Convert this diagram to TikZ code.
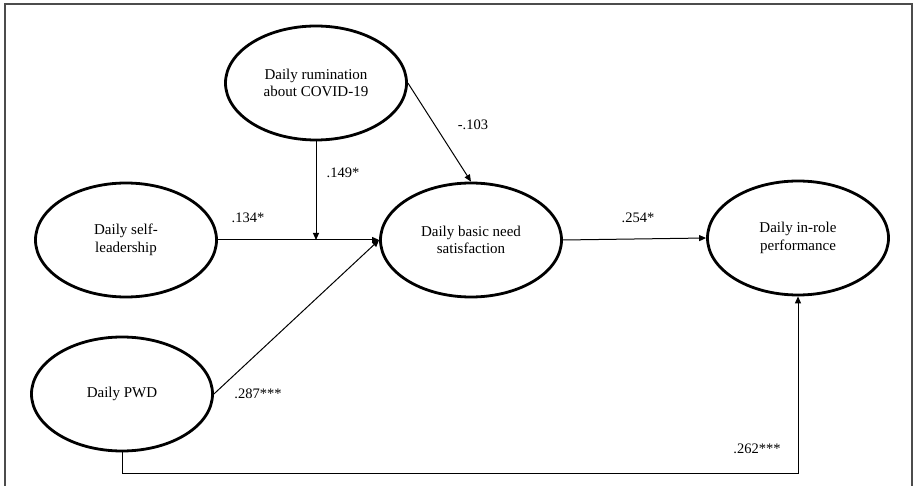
\documentclass[tikz,border=0pt]{standalone}
\usepackage{fontspec}
\setmainfont{Liberation Serif}
\usetikzlibrary{shapes.geometric,arrows.meta}

\begin{document}
\begin{tikzpicture}[x=1pt,y=-1pt,
  latent/.style={ellipse,draw,line width=2.8pt,minimum width=181pt,minimum height=114pt,
                 inner sep=0pt,align=center,font=\fontsize{15}{17.5}\selectfont},
  pathline/.style={line width=1pt,-{Triangle[length=7pt,width=6pt]}},
  coef/.style={font=\fontsize{14.5}{17}\selectfont,inner sep=0pt}]
\useasboundingbox (0,0) rectangle (916,486);

% open frame
\draw[line width=1.5pt,color=black!70] (5,486) -- (5,4) -- (912,4) -- (912,486);

% latent variables
\node[latent] (rum)  at (316,83)  {Daily rumination\\about COVID-19};
\node[latent] (self) at (126,240) {Daily self-\\leadership};
\node[latent] (pwd)  at (122,394) {Daily PWD};
\node[latent] (bns)  at (471,240) {Daily basic need\\satisfaction};
\node[latent] (irp)  at (798,238) {Daily in-role\\performance};

% helper points
\coordinate (mod) at (rum.south |- self.east);
\path (pwd.south) ++(0,21) coordinate (pwdlow);

% paths
\draw[pathline] (self.east) -- (bns.west);
\draw[pathline] (rum.south) -- (mod);
\draw[pathline] (rum.east) -- (bns.north);
\draw[pathline] (pwd.east) -- (bns.west);
\draw[pathline] (bns.east) -- (irp.west);
\draw[pathline] (pwd.south) -- (pwdlow) -| (irp.south);

% coefficients
\node[coef] at (473,125) {-.103};
\node[coef] at (343,173) {.149*};
\node[coef] at (248,218) {.134*};
\node[coef] at (258,394) {.287***};
\node[coef] at (638,218) {.254*};
\node[coef] at (757,449) {.262***};
\end{tikzpicture}
\end{document}
